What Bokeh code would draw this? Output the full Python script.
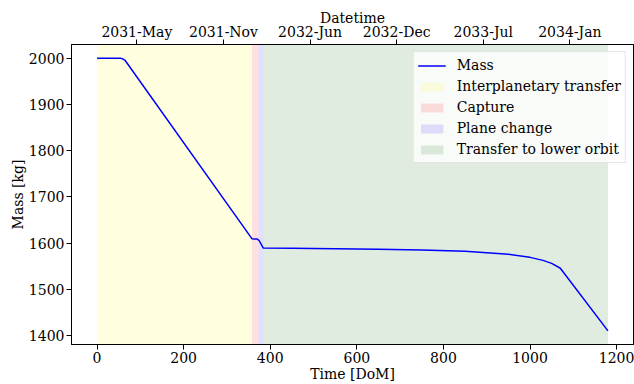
from bokeh.plotting import figure
from bokeh.models import (Range1d, LinearAxis, FixedTicker, Legend, LegendItem)
from bokeh.embed import file_html
from bokeh.resources import INLINE

# ---- data ----
dom = [0, 50, 55, 60, 65, 358, 362, 370, 374, 384, 450, 550, 650, 750, 850,
       900, 950, 1000, 1030, 1050, 1070, 1180]
mass = [2000, 2000, 1999.5, 1998, 1995, 1609, 1608.5, 1608.5, 1606, 1589,
        1588.5, 1587.8, 1586.5, 1584.8, 1582, 1579, 1575.5, 1569, 1562.5,
        1556, 1545.5, 1410]

phase_names = ["Interplanetary transfer", "Capture", "Plane change",
               "Transfer to lower orbit"]
phase_start = [0, 358, 373, 385]
phase_end = [358, 373, 385, 1180]
phase_colors = ["yellow", "red", "blue", "darkgreen"]

date_ticks = [92, 292, 492, 692, 892, 1092]
date_labels = ["2031-May", "2031-Nov", "2032-Jun", "2032-Dec", "2033-Jul",
               "2034-Jan"]

x_ticks = [0, 200, 400, 600, 800, 1000, 1200]
y_ticks = [1400, 1500, 1600, 1700, 1800, 1900, 2000]

XMIN, XMAX = -59, 1239
YMIN, YMAX = 1380.5, 2029.5

FONT = "DejaVu Serif"
FS = "14px"

p = figure(width=634, height=384, output_backend="svg", toolbar_location=None,
           x_range=Range1d(XMIN, XMAX), y_range=Range1d(YMIN, YMAX),
           min_border_left=71, min_border_right=1, min_border_top=44,
           min_border_bottom=39)
p.xgrid.visible = False
p.ygrid.visible = False
p.outline_line_color = "black"
p.outline_line_width = 1
p.background_fill_color = "white"
p.border_fill_color = "white"

span_renderers = []
for name, s, e, c in zip(phase_names, phase_start, phase_end, phase_colors):
    r = p.quad(left=[s], right=[e], bottom=[YMIN - 100], top=[YMAX + 100],
               fill_color=c, fill_alpha=0.12, line_color=None)
    span_renderers.append(r)

line_r = p.line(dom, mass, line_color="#0000ff", line_width=1.5)

items = [LegendItem(label="Mass", renderers=[line_r])]
for name, r in zip(phase_names, span_renderers):
    items.append(LegendItem(label=name, renderers=[r]))

legend = Legend(items=items, location="top_right")
legend.label_text_font = FONT
legend.label_text_font_size = FS
legend.label_text_color = "black"
legend.glyph_width = 28
legend.glyph_height = 11
legend.label_height = 18
legend.spacing = 3
legend.padding = 4
legend.margin = 7
legend.label_standoff = 11
legend.background_fill_color = "white"
legend.background_fill_alpha = 0.8
legend.border_line_color = "#cccccc"
legend.border_line_width = 1
p.add_layout(legend)

def style_axis(ax):
    ax.major_label_text_font = FONT
    ax.major_label_text_font_size = FS
    ax.major_label_text_color = "black"
    ax.axis_label_text_font = FONT
    ax.axis_label_text_font_size = FS
    ax.axis_label_text_font_style = "normal"
    ax.axis_label_text_color = "black"
    ax.minor_tick_line_color = None
    ax.major_tick_in = 0
    ax.major_tick_out = 5
    ax.axis_line_color = "black"
    ax.major_tick_line_color = "black"
    ax.major_label_standoff = 2
    ax.axis_label_standoff = 0

xa = p.xaxis[0]
xa.ticker = FixedTicker(ticks=x_ticks)
xa.axis_label = "Time [DoM]"
style_axis(xa)

ya = p.yaxis[0]
ya.ticker = FixedTicker(ticks=y_ticks)
ya.axis_label = "Mass [kg]"
style_axis(ya)

top = LinearAxis(ticker=FixedTicker(ticks=date_ticks),
                 major_label_overrides={t: l for t, l in zip(date_ticks, date_labels)},
                 axis_label="Datetime")
style_axis(top)
top.major_label_standoff = 0
top.axis_label_standoff = -5
p.add_layout(top, "above")

open("out.html", "w").write(file_html(p, INLINE))
